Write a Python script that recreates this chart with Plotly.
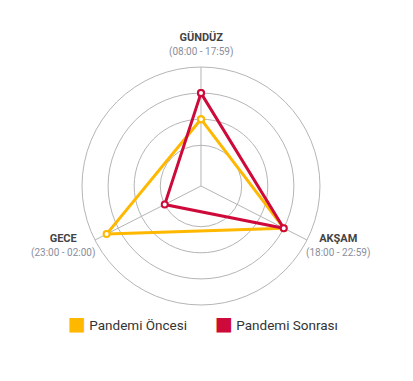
import plotly.graph_objects as go

# Time-of-day periods and their display labels
periods = ["GÜNDÜZ", "AKŞAM", "GECE"]
period_hours = ["(08:00 - 17:59)", "(18:00 - 22:59)", "(23:00 - 02:00)"]

# Series values per period
series_names = ["Pandemi Öncesi", "Pandemi Sonrası"]
oncesi = [20, 30, 35]
sonrasi = [30, 30, 10]

# Radial scale
radial_ticks = [10, 20, 30, 40]
radial_min = -5.6

# Layout: angle of each period's spoke (degrees, counterclockwise from east)
period_angles = [90, 333, 207]
# Label block centres in pixels from the top-left corner
label_pos = [(200.5, 44.5), (338, 245.5), (63, 245.5)]
# Left edge (px) of each legend entry
legend_left = [28, 175]
colors = ["#FFB800", "#CE0A3A"]

W, H = 413, 381
dom_x = [0.1973, 0.7760]
dom_y = [0.1995, 0.8241]

fig = go.Figure()

for name, vals, col in zip(series_names, [oncesi, sonrasi], colors):
    fig.add_trace(go.Scatterpolar(
        r=vals + vals[:1],
        theta=period_angles + period_angles[:1],
        mode="lines+markers",
        line=dict(color=col, width=3),
        marker=dict(size=6, color="white", line=dict(color=col, width=2)),
        showlegend=False,
        hoverinfo="skip",
    ))

# Legend entries: coloured square glyph followed by the series name,
# each in its own legend box
legend_ids = ["legend", "legend2"]
for name, col, lid in zip(series_names, colors, legend_ids):
    fig.add_trace(go.Scatterpolar(
        r=[None], theta=[None], mode="markers", legend=lid,
        name=(f"<span style='color:{col};font-family:DejaVu Sans;font-size:19px'>■</span>"
              f" {name}"),
        marker=dict(size=0.1, color="rgba(0,0,0,0)", opacity=0,
                    line=dict(width=0, color="rgba(0,0,0,0)")),
    ))

annotations = []
for p, h, (px, py) in zip(periods, period_hours, label_pos):
    annotations.append(dict(
        x=px / W, y=1 - py / H, xref="paper", yref="paper",
        xanchor="center", yanchor="middle", showarrow=False, align="center",
        text=(f"<b>{p}</b><br>"
              f"<span style='color:#8A8E9C;font-size:10px'>{h}</span>"),
        font=dict(size=11, color="#444444", family="Roboto"),
    ))

legend_style = dict(
    orientation="h",
    xanchor="left",
    y=0.147, yanchor="middle",
    font=dict(size=13.5, color="#333333"),
    itemwidth=30,
    bgcolor="rgba(0,0,0,0)",
)

fig.update_layout(
    width=W, height=H,
    margin=dict(l=0, r=0, t=0, b=0),
    paper_bgcolor="white",
    plot_bgcolor="white",
    font=dict(family="Roboto", color="#444444"),
    annotations=annotations,
    polar=dict(
        domain=dict(x=dom_x, y=dom_y),
        bgcolor="white",
        radialaxis=dict(
            range=[radial_min, 40],
            tickvals=radial_ticks,
            showticklabels=False,
            ticks="",
            showline=False,
            gridcolor="#B5B5B5",
            gridwidth=1,
        ),
        angularaxis=dict(
            direction="counterclockwise",
            rotation=0,
            thetaunit="degrees",
            tickmode="array",
            tickvals=period_angles,
            showticklabels=False,
            ticks="",
            showline=True,
            linecolor="#B5B5B5",
            linewidth=1,
            gridcolor="#B5B5B5",
            gridwidth=1,
        ),
    ),
    legend=dict(x=legend_left[0] / W, **legend_style),
    legend2=dict(x=legend_left[1] / W, **legend_style),
)

fig.write_html("out.html")
